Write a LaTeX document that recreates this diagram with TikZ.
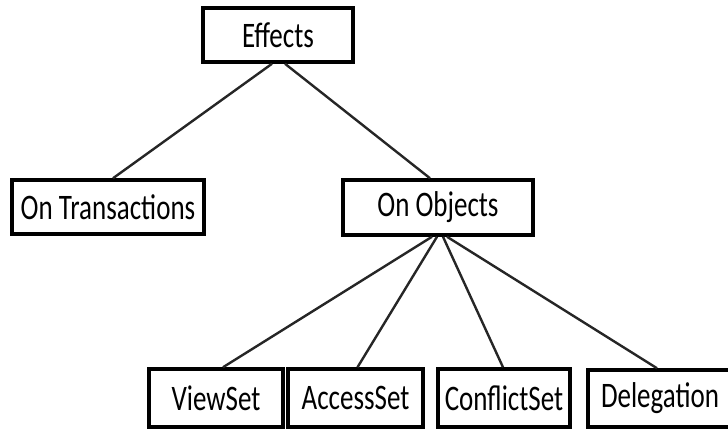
\documentclass[tikz,border=0pt]{standalone}
\usepackage{fontspec}
\setmainfont{Carlito}
\usepackage{graphicx}
\usetikzlibrary{calc}
\newcommand{\mylabel}[1]{\scalebox{1}[1.33]{#1}}
\tikzset{
  box/.style={draw=black, line width=3.5pt, fill=white, rectangle, inner sep=0pt,
    font=\fontsize{27}{32}\selectfont},
  link/.style={draw=black!85, line width=2.4pt}
}
\begin{document}
\begin{tikzpicture}[x=1pt,y=-1pt]
\useasboundingbox (0,0) rectangle (728,429);
\node[box, minimum width=150pt, minimum height=54pt] (eff) at (278,35) {\mylabel{Effects}};
\node[box, minimum width=192pt, minimum height=54pt] (tra) at (108,207) {\mylabel{On Transactions}};
\node[box, minimum width=190pt, minimum height=55pt] (obj) at (438,207.5) {\mylabel{On Objects}};
\node[box, minimum width=134pt, minimum height=58pt] (vs) at (216,398) {\mylabel{ViewSet}};
\node[box, minimum width=135pt, minimum height=58pt] (as) at (355.5,398) {\mylabel{AccessSet}};
\node[box, minimum width=132pt, minimum height=58pt] (cs) at (504,398) {\mylabel{ConflictSet}};
\node[box, minimum width=152pt, minimum height=57pt, text width=140pt, align=left] (del) at (664,398.5) {\hspace{7pt}\mylabel{Delegation}};
\draw[link] ($(eff.south)+(-6,0)$) -- ($(tra.north)+(5,0)$);
\draw[link] ($(eff.south)+(7,0)$) -- ($(obj.north)+(-8,0)$);
\draw[link] ($(obj.south)+(-6,0)$) -- ($(vs.north)+(7,0)$);
\draw[link] ($(obj.south)+(-1,0)$) -- ($(as.north)+(2,0)$);
\draw[link] ($(obj.south)+(5,0)$) -- ($(cs.north)+(-1,0)$);
\draw[link] ($(obj.south)+(9,0)$) -- ($(del.north)+(-7,0)$);
\end{tikzpicture}
\end{document}
